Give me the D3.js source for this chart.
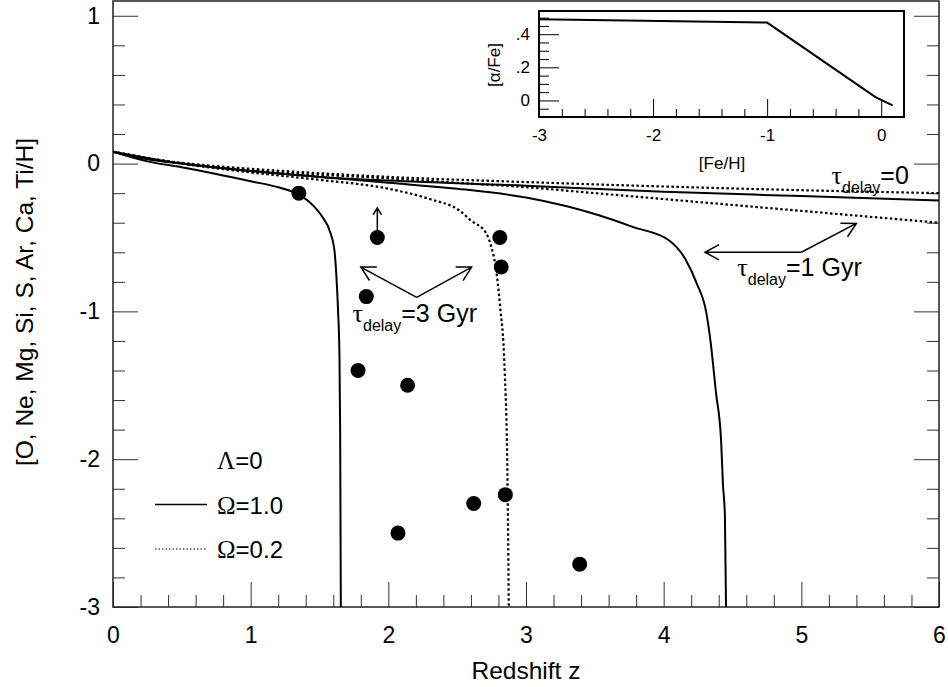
<!DOCTYPE html>
<html>
<head>
<meta charset="utf-8">
<script src="https://cdn.jsdelivr.net/npm/d3@7"></script>
<style>
    body { margin: 0; background: #fff; }
    text { font-family: "Liberation Sans", Arial, sans-serif; fill: #000; }
    .greek { font-family: "Liberation Serif", "Times New Roman", serif; }
</style>
</head>
<body>
<svg id="chart"></svg>
<script>
// model curves: [redshift z, abundance]
const omega1Tau0 = [[0, 0.08], [0.25, 0.03], [0.5, 0.0], [1, -0.05], [1.5, -0.09], [2, -0.115], [3, -0.15], [4, -0.19], [5, -0.22], [6, -0.25]];
const omega02Tau0 = [[0, 0.08], [0.25, 0.035], [0.5, 0.005], [1, -0.035], [1.5, -0.065], [2, -0.09], [3, -0.125], [4, -0.155], [5, -0.18], [6, -0.2]];
const omega1Tau1 = [[0, 0.08], [0.5, 0.0], [1, -0.05], [1.5, -0.09], [2, -0.13], [2.5, -0.17], [3, -0.23], [3.53, -0.35], [3.78, -0.43], [4.04, -0.52], [4.16, -0.65], [4.24, -0.81], [4.31, -1.01], [4.34, -1.2], [4.38, -1.55], [4.417, -1.87], [4.43, -2.16], [4.445, -2.39], [4.453, -3]];
const omega02Tau1 = [[0, 0.08], [0.5, 0.0], [1, -0.045], [1.5, -0.075], [2, -0.1], [2.5, -0.13], [3, -0.16], [3.5, -0.2], [4, -0.24], [4.5, -0.28], [5, -0.32], [5.5, -0.36], [6, -0.4]];
const omega1Tau3 = [[0, 0.08], [0.25, 0.015], [0.5, -0.025], [0.75, -0.07], [1, -0.12], [1.2, -0.16], [1.35, -0.21], [1.45, -0.28], [1.52, -0.36], [1.58, -0.47], [1.61, -0.6], [1.625, -0.8], [1.635, -1.0], [1.645, -1.3], [1.65, -1.8], [1.655, -3]];
const omega02Tau3 = [[0, 0.08], [0.5, 0.0], [1, -0.06], [1.5, -0.11], [2, -0.17], [2.3, -0.24], [2.52, -0.32], [2.6, -0.385], [2.71, -0.47], [2.75, -0.57], [2.78, -0.7], [2.81, -0.95], [2.845, -1.4], [2.865, -2.1], [2.875, -3]];

// observed systems
const pointZ = [1.35, 1.92, 1.84, 1.78, 2.14, 2.81, 2.82, 2.07, 2.62, 2.85, 3.39];
const pointValue = [-0.2, -0.5, -0.9, -1.4, -1.5, -0.5, -0.7, -2.5, -2.3, -2.24, -2.71];
const lowerLimit = [false, true, false, false, false, false, false, false, false, false, false];

// inset: [alpha/Fe] vs [Fe/H]
const insetFeH = [-3, -1, -0.05, 0.1];
const insetAlphaFe = [0.49, 0.47, 0.02, -0.03];

const zTicks = [0, 1, 2, 3, 4, 5, 6];
const valueTicks = [-3, -2, -1, 0, 1];
const insetXTicks = [-3, -2, -1, 0];
const insetYTicks = [0, 0.2, 0.4];
const insetYLabels = ['0', '.2', '.4'];

const width = 948, height = 687;
const margin = {top: 1, right: 9, bottom: 80, left: 113};
const innerW = width - margin.left - margin.right;
const innerH = height - margin.top - margin.bottom;

const svg = d3.select('#chart')
    .attr('width', width)
    .attr('height', height);

const g = svg.append('g')
    .attr('transform', `translate(${margin.left}, ${margin.top})`);

const x = d3.scaleLinear().domain([0, 6]).range([0, innerW]);
const y = d3.scaleLinear().domain([-3, 1.1]).range([innerH, 0]);

const minor = (lo, hi, step) => d3.range(Math.round((hi - lo) / step) + 1)
    .map(i => +(lo + i * step).toFixed(3))
    .filter(v => Math.abs(v - Math.round(v)) > 1e-6);

const plain = d => String(d);   // hyphen minus, like the original

const styleAxis = sel => {
    sel.selectAll('.tick line').attr('stroke', '#333');
    sel.select('.domain').remove();
    sel.selectAll('text').style('font-size', '23px').style('font-family', '"Liberation Sans", Arial, sans-serif');
};

// left axis
g.append('g')
    .call(d3.axisLeft(y).tickValues(valueTicks).tickSize(-25).tickPadding(13).tickFormat(plain))
    .call(styleAxis);
g.append('g')
    .call(d3.axisLeft(y).tickValues(minor(-3, 1, 0.2)).tickSize(-12).tickFormat(''))
    .call(styleAxis);
// right axis
g.append('g')
    .attr('transform', `translate(${innerW}, 0)`)
    .call(d3.axisRight(y).tickValues(valueTicks).tickSize(-25).tickFormat(''))
    .call(styleAxis);
g.append('g')
    .attr('transform', `translate(${innerW}, 0)`)
    .call(d3.axisRight(y).tickValues(minor(-3, 1, 0.2)).tickSize(-12).tickFormat(''))
    .call(styleAxis);
// bottom axis
g.append('g')
    .attr('transform', `translate(0, ${innerH})`)
    .call(d3.axisBottom(x).tickValues(zTicks).tickSize(-25).tickPadding(20).tickFormat(plain))
    .call(styleAxis);
g.append('g')
    .attr('transform', `translate(0, ${innerH})`)
    .call(d3.axisBottom(x).tickValues(minor(0, 6, 0.2)).tickSize(-12).tickFormat(''))
    .call(styleAxis);

// frame
g.append('rect')
    .attr('width', innerW)
    .attr('height', innerH)
    .attr('fill', 'none')
    .attr('stroke', '#222')
    .attr('stroke-width', 1.5);

// axis titles
svg.append('text')
    .attr('x', margin.left + innerW / 2)
    .attr('y', 679)
    .attr('text-anchor', 'middle')
    .style('font-size', '24.5px')
    .text('Redshift z');
svg.append('text')
    .attr('transform', `translate(33, 302) rotate(-90)`)
    .attr('text-anchor', 'middle')
    .style('font-size', '24.5px')
    .text('[O, Ne, Mg, Si, S, Ar, Ca, Ti/H]');

// curves
g.append('clipPath').attr('id', 'plot-clip')
    .append('rect').attr('width', innerW).attr('height', innerH);

const line = d3.line()
    .x(d => x(d[0]))
    .y(d => y(d[1]))
    .curve(d3.curveMonotoneX);

const curves = [
    {data: omega1Tau0, dotted: false},
    {data: omega02Tau0, dotted: true},
    {data: omega1Tau1, dotted: false},
    {data: omega02Tau1, dotted: true},
    {data: omega1Tau3, dotted: false},
    {data: omega02Tau3, dotted: true},
];

g.append('g')
    .attr('clip-path', 'url(#plot-clip)')
    .selectAll('path')
    .data(curves)
    .join('path')
    .attr('d', d => line(d.data))
    .attr('fill', 'none')
    .attr('stroke', '#000')
    .attr('stroke-width', d => d.dotted ? 2.2 : 2)
    .attr('stroke-dasharray', d => d.dotted ? '2.5,2.5' : null);

// data points
g.selectAll('.pt')
    .data(pointZ)
    .join('circle')
    .attr('class', 'pt')
    .attr('cx', d => x(d))
    .attr('cy', (d, i) => y(pointValue[i]))
    .attr('r', 7.5)
    .attr('fill', '#000');

// arrows
function arrow(sel, x1, y1, x2, y2, len, ang) {
    const a = Math.atan2(y2 - y1, x2 - x1);
    const h1 = [x2 - len * Math.cos(a - ang), y2 - len * Math.sin(a - ang)];
    const h2 = [x2 - len * Math.cos(a + ang), y2 - len * Math.sin(a + ang)];
    sel.append('path')
        .attr('fill', 'none')
        .attr('stroke', '#000')
        .attr('stroke-width', 1.5)
        .attr('d', `M${x1},${y1}L${x2},${y2}M${h1[0]},${h1[1]}L${x2},${y2}L${h2[0]},${h2[1]}`);
}

pointZ.forEach((z, i) => {
    if (lowerLimit[i]) arrow(g, x(z), y(pointValue[i]) - 6, x(z), y(pointValue[i] + 0.2), 8, 0.55);
});

// annotation arrows, in data units: [from z, from value, to z, to value]
const arrows3Gyr = [[2.206, -0.905, 1.80, -0.70], [2.206, -0.905, 2.605, -0.70]];
const arrows1Gyr = [[5.0, -0.60, 4.30, -0.60], [5.0, -0.60, 5.40, -0.405]];
arrows3Gyr.concat(arrows1Gyr).forEach(a => arrow(g, x(a[0]), y(a[1]), x(a[2]), y(a[3]), 16, 0.5));

// tau labels
const tauLabels = [
    {z: 5.22, v: -0.135, rest: '=0'},
    {z: 4.535, v: -0.76, rest: '=1 Gyr'},
    {z: 1.74, v: -1.07, rest: '=3 Gyr'},
];
tauLabels.forEach(l => {
    const t = g.append('text')
        .attr('x', x(l.z))
        .attr('y', y(l.v))
        .style('font-size', '25px');
    t.append('tspan').attr('class', 'greek').style('font-size', '26px').text('τ');
    t.append('tspan').attr('dy', 9).style('font-size', '16px').text('delay');
    t.append('tspan').attr('dy', -9).text(l.rest);
});

// legend
const legendLabels = ['=0', '=1.0', '=0.2'];
const legendSymbols = ['Λ', 'Ω', 'Ω'];
const legendDotted = [null, false, true];
legendLabels.forEach((lab, i) => {
    const yy = 469 + i * 44.5 - margin.top;
    const t = g.append('text')
        .attr('x', 104)
        .attr('y', yy)
        .style('font-size', '24px');
    t.append('tspan').attr('class', 'greek').style('font-size', '25px').text(legendSymbols[i]);
    t.append('tspan').text(lab);
    if (legendDotted[i] !== null) {
        g.append('line')
            .attr('x1', 42).attr('x2', 94)
            .attr('y1', yy - 9).attr('y2', yy - 9)
            .attr('stroke', '#000')
            .attr('stroke-width', legendDotted[i] ? 1 : 1.3)
            .attr('stroke-dasharray', legendDotted[i] ? '1.5,2' : null);
    }
});

// inset
const ix = d3.scaleLinear().domain([-3, 0.2]).range([539, 904]);
const iy = d3.scaleLinear().domain([-0.1, 0.54]).range([117, 11]);
const inset = svg.append('g');

inset.append('rect')
    .attr('x', ix(-3)).attr('y', iy(0.54))
    .attr('width', ix(0.2) - ix(-3))
    .attr('height', iy(-0.1) - iy(0.54))
    .attr('fill', '#fff');

const styleInset = sel => {
    sel.selectAll('.tick line').attr('stroke', '#000');
    sel.select('.domain').remove();
    sel.selectAll('text').style('font-size', '17px').style('font-family', '"Liberation Sans", Arial, sans-serif');
};

inset.append('g')
    .attr('transform', `translate(${ix(-3)}, 0)`)
    .call(d3.axisLeft(iy).tickValues(insetYTicks).tickSize(-20).tickPadding(9).tickFormat((d, i) => insetYLabels[i]))
    .call(styleInset);
inset.append('g')
    .attr('transform', `translate(${ix(-3)}, 0)`)
    .call(d3.axisLeft(iy).tickValues([-0.05, 0.05, 0.1, 0.15, 0.25, 0.3, 0.35, 0.45, 0.5]).tickSize(-10).tickFormat(''))
    .call(styleInset);
inset.append('g')
    .attr('transform', `translate(0, ${iy(-0.1)})`)
    .call(d3.axisBottom(ix).tickValues(insetXTicks).tickSize(-18).tickPadding(12).tickFormat(plain))
    .call(styleInset);
inset.append('g')
    .attr('transform', `translate(0, ${iy(-0.1)})`)
    .call(d3.axisBottom(ix).tickValues(minor(-3, 0.2, 0.2)).tickSize(-8).tickFormat(''))
    .call(styleInset);

inset.append('path')
    .datum(insetFeH.map((d, i) => [d, insetAlphaFe[i]]))
    .attr('d', d3.line().x(d => ix(d[0])).y(d => iy(d[1])))
    .attr('fill', 'none')
    .attr('stroke', '#000')
    .attr('stroke-width', 2);

inset.append('rect')
    .attr('x', ix(-3)).attr('y', iy(0.54))
    .attr('width', ix(0.2) - ix(-3))
    .attr('height', iy(-0.1) - iy(0.54))
    .attr('fill', 'none')
    .attr('stroke', '#000')
    .attr('stroke-width', 2);

inset.append('text')
    .attr('x', 722)
    .attr('y', 169)
    .attr('text-anchor', 'middle')
    .style('font-size', '17px')
    .text('[Fe/H]');
inset.append('text')
    .attr('transform', `translate(500, 65) rotate(-90)`)
    .attr('text-anchor', 'middle')
    .style('font-size', '17px')
    .text('[α/Fe]');
</script>
</body>
</html>
